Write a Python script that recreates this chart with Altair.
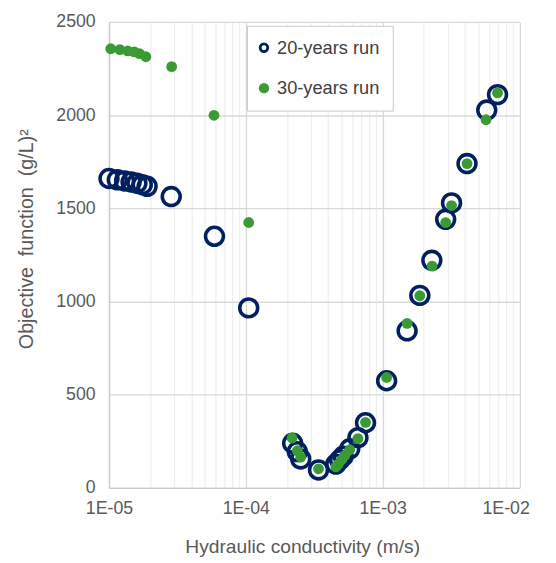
import altair as alt
import pandas as pd

# 20-years run (open navy circles)
k20 = [1.0e-5, 1.15e-5, 1.3e-5, 1.45e-5, 1.6e-5, 1.75e-5, 1.9e-5, 2.85e-5,
       5.9e-5, 1.05e-4, 2.2e-4, 2.38e-4, 2.52e-4, 3.4e-4, 4.55e-4, 4.85e-4,
       5.15e-4, 5.75e-4, 6.6e-4, 7.5e-4, 1.07e-3, 1.51e-3, 1.87e-3, 2.29e-3,
       2.89e-3, 3.19e-3, 4.14e-3, 5.77e-3, 6.92e-3]
of20 = [1660, 1653, 1647, 1641, 1635, 1627, 1618, 1563,
        1350, 966, 240, 195, 156, 97, 128, 150,
        170, 210, 270, 350, 575, 843, 1033, 1221,
        1441, 1529, 1740, 2027, 2110]

# 30-years run (filled green dots)
k30 = [1.03e-5, 1.2e-5, 1.37e-5, 1.53e-5, 1.67e-5, 1.86e-5, 2.87e-5,
       5.85e-5, 1.05e-4, 2.18e-4, 2.38e-4, 2.52e-4, 3.4e-4, 4.55e-4, 4.75e-4,
       5.0e-4, 5.3e-4, 5.75e-4, 6.6e-4, 7.5e-4, 1.07e-3, 1.51e-3, 1.87e-3,
       2.3e-3, 2.89e-3, 3.19e-3, 4.14e-3, 5.7e-3, 6.92e-3]
of30 = [2356, 2351, 2344, 2339, 2330, 2313, 2260,
        1999, 1424, 268, 200, 165, 103, 113, 128,
        150, 175, 205, 265, 352, 593, 883, 1031,
        1190, 1423, 1515, 1740, 1975, 2119]

series = ["20-years run", "30-years run"]
x_ticks = [m * 10.0 ** e for e in (-5, -4, -3) for m in range(1, 10)] + [1e-2]
y_ticks = [0, 500, 1000, 1500, 2000, 2500]

df = pd.DataFrame({
    "K": k20 + k30,
    "OF": of20 + of30,
    "run": [series[0]] * len(k20) + [series[1]] * len(k30),
})

NAVY = "#002060"
GREEN = "#3A9B35"
FONT = "Liberation Sans"
TXT = "#595959"
NB = "\u00a0"

is_major = "abs(log(datum.value)/LN10 - round(log(datum.value)/LN10)) < 0.01"
is_last = "datum.value > 0.0099"
is_20 = f"datum.run == '{series[0]}'"

legend = alt.Legend(
    title=None, orient="none", legendX=140, legendY=4,
    labelFont=FONT, labelFontSize=18.5, labelColor="#404040",
    symbolSize=60, symbolStrokeWidth=2.8, symbolType="circle",
    symbolOffset=-5,
    strokeColor="#c8c8c8", fillColor="white", padding=13,
    rowPadding=21, labelOffset=4,
)

y_title = f"Objective{NB}{NB}function{NB}{NB}(g/L)²"

chart = alt.Chart(df).mark_point(opacity=1).encode(
    x=alt.X("K:Q",
            scale=alt.Scale(type="log", domain=[1e-5, 1e-2], nice=False),
            axis=alt.Axis(
                values=x_ticks,
                labelExpr=f"({is_major}) ? '1E-0' + (-round(log(datum.value)/LN10)) : ''",
                labelOffset={"condition": {"test": is_last, "value": -14}, "value": 0},
                gridColor={"condition": {"test": is_major, "value": "#d9d9d9"}, "value": "#efefef"},
                gridWidth=1.3,
                ticks=False, labelFlush=False, labelOverlap=False,
                labelPadding=12, titlePadding=20, titleX=196, titleFontSize=19.5,
                domainColor="#c8c8c8", domainWidth=1.3),
            title="Hydraulic conductivity (m/s)"),
    y=alt.Y("OF:Q",
            scale=alt.Scale(domain=[0, 2500], nice=False),
            axis=alt.Axis(values=y_ticks, format="d", gridColor="#d9d9d9", gridWidth=1.3,
                          ticks=False, labelPadding=14,
                          titleX=-74, titleY=220, titleFontSize=20,
                          domainColor="#c8c8c8", domainWidth=1.3),
            title=y_title),
    color=alt.Color("run:N", scale=alt.Scale(domain=series, range=[NAVY, GREEN]),
                    legend=legend),
    fill=alt.Fill("run:N", scale=alt.Scale(domain=series, range=["transparent", GREEN]),
                  legend=legend),
    size=alt.condition(is_20, alt.value(330), alt.value(120)),
    strokeWidth=alt.condition(is_20, alt.value(3.6), alt.value(0)),
).properties(
    width=416.5, height=473,
    autosize=alt.AutoSizeParams(type="none"),
    padding={"left": 102.5, "top": 10, "right": 29, "bottom": 70},
).configure_view(stroke=None).configure_axis(
    labelFont=FONT, titleFont=FONT, labelFontSize=18,
    labelColor=TXT, titleColor=TXT, titleFontWeight="normal",
)

chart.save("out.html", embed_options={"renderer": "svg", "actions": False})
